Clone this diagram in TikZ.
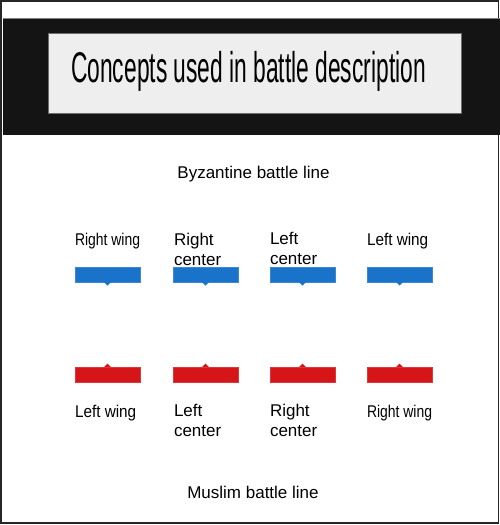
\documentclass[tikz,border=0pt]{standalone}
\usepackage{fontspec}
\setmainfont{Liberation Sans}
\definecolor{bandblack}{HTML}{141414}
\definecolor{boxgrey}{HTML}{EEEEEE}
\definecolor{boxedge}{HTML}{6E6E6E}
\definecolor{byzblue}{HTML}{1A73CA}
\definecolor{muslred}{HTML}{D61518}
\tikzset{
  unitbox/.style={minimum width=65pt, minimum height=15pt, inner sep=0pt, outer sep=0pt, draw=#1!85!white, fill=#1, line width=0.4pt},
  lbl/.style={font=\fontsize{17}{20}\selectfont, inner sep=0pt, outer sep=0pt, align=left},
  caption/.style={font=\fontsize{17}{20}\selectfont, inner sep=0pt},
}
\begin{document}
\begin{tikzpicture}[x=1pt,y=-1pt]
\useasboundingbox (0,0) rectangle (500,525);
% outer frame
\draw[line width=1.5pt, draw=black!85] (0.75,0.75) rectangle (498.5,522.8);
% title band
\fill[bandblack] (3,18) rectangle (500,135);
\draw[gray, line width=0.8pt] (3,18) -- (500,18);
\node[draw=boxedge, fill=boxgrey, line width=0.8pt, minimum width=413pt, minimum height=80pt, inner sep=0pt] (titlebox) at (254.5,73) {};
\node[inner sep=0pt, anchor=base] (title) at (248.5,82) {\scalebox{0.53}[1]{\fontsize{43}{50}\selectfont Concepts used in battle description}};
% captions
\node[caption, anchor=base] (byz) at (253.5,178) {Byzantine battle line};
\node[caption, anchor=base] (mus) at (253,498) {Muslim battle line};
% Byzantine units
\foreach \n/\x in {b1/75,b2/173,b3/270,b4/367}{
  \node[unitbox=byzblue, anchor=north west] (\n) at (\x,267) {};
  \fill[byzblue] ([xshift=-3.5pt]\n.south) -- ([xshift=3.5pt]\n.south) -- ([yshift=-3.5pt]\n.south) -- cycle;
}
% Muslim units
\foreach \n/\x in {m1/75,m2/173,m3/270,m4/367}{
  \node[unitbox=muslred, anchor=north west] (\n) at (\x,367) {};
  \fill[muslred] ([xshift=-3.5pt]\n.north) -- ([xshift=3.5pt]\n.north) -- ([yshift=3.5pt]\n.north) -- cycle;
}
% Byzantine labels
\node[lbl, anchor=base west] (lb1) at (75,245) {\scalebox{0.82}[1]{Right wing}};
\node[lbl, anchor=north west] (lb2) at (174,233.5) {Right\\center};
\node[lbl, anchor=north west] (lb3) at (270,232.5) {Left\\center};
\node[lbl, anchor=base west] (lb4) at (367,245) {\scalebox{0.9}[1]{Left wing}};
% Muslim labels
\node[lbl, anchor=base west] (lm1) at (75,417.5) {\scalebox{0.9}[1]{Left wing}};
\node[lbl, anchor=north west] (lm2) at (174,404.5) {Left\\center};
\node[lbl, anchor=north west] (lm3) at (270,404.5) {Right\\center};
\node[lbl, anchor=base west] (lm4) at (367,417) {\scalebox{0.82}[1]{Right wing}};
\end{tikzpicture}
\end{document}
